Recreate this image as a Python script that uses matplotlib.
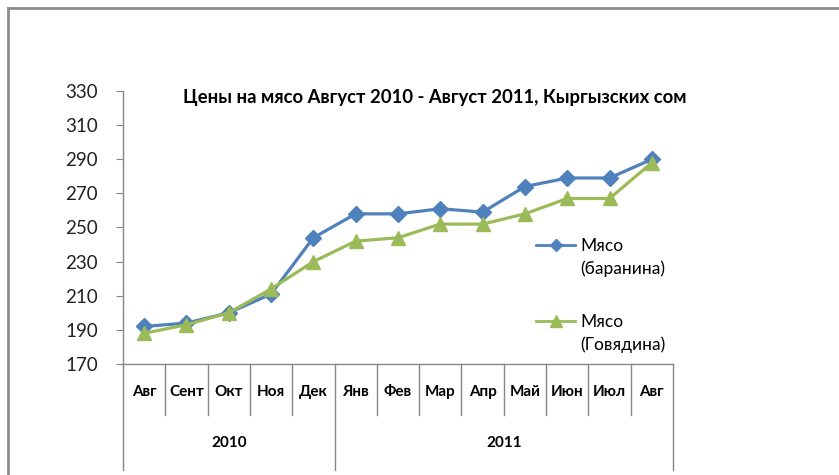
import numpy as np
import matplotlib.pyplot as plt
from matplotlib.lines import Line2D
import matplotlib.transforms as mtransforms

plt.rcParams['font.family'] = ['Lato', 'DejaVu Sans']

# data
months = ['Авг', 'Сент', 'Окт', 'Ноя', 'Дек', 'Янв', 'Фев', 'Мар', 'Апр', 'Май', 'Июн', 'Июл', 'Авг']
years = ['2010', '2011']
year_counts = [5, 8]
mutton = [192, 194, 200, 211, 244, 258, 258, 261, 259, 274, 279, 279, 290]
beef = [188, 193, 200, 214, 230, 242, 244, 252, 252, 258, 267, 267, 288]
yticks = np.arange(170, 331, 20)

title = 'Цены на мясо Август 2010 - Август 2011, Кыргызских сом'
lbl_mutton = ['Мясо', '(баранина)']
lbl_beef = ['Мясо', '(Говядина)']

blue = '#4F81BD'
green = '#9BBB59'
grid_c = '#868686'

W, H = 839, 475
fig = plt.figure(figsize=(W / 100, H / 100), dpi=100)
ax = fig.add_axes([123 / W, 1 - 364 / H, 550 / W, 273 / H])

x = np.arange(len(months))
ax.plot(x, mutton, color=blue, lw=2.3, marker='D', ms=8.5, zorder=3)
ax.plot(x, beef, color=green, lw=2.3, marker='^', ms=10.5, zorder=4)

ax.set_xlim(-0.5, len(months) - 0.5)
ax.set_ylim(170, 330)
ax.set_yticks(yticks)
ax.set_yticklabels([str(v) for v in yticks], fontsize=13.5, color='#222222')
ax.tick_params(axis='y', direction='out', length=5, color=grid_c, pad=13)
ax.set_xticks([])
for s in ['top', 'right']:
    ax.spines[s].set_visible(False)
for s in ['left', 'bottom']:
    ax.spines[s].set_color(grid_c)
    ax.spines[s].set_linewidth(1)

# category table under the axis
tr = mtransforms.blended_transform_factory(ax.transData, ax.transAxes)
bounds = np.cumsum([0] + year_counts) - 0.5
for i in range(len(months) + 1):
    xb = i - 0.5
    y1 = -0.388 if xb in bounds else -0.187
    ax.add_line(Line2D([xb, xb], [0, y1], transform=tr, color=grid_c, lw=1, clip_on=False))
for i, m in enumerate(months):
    ax.text(i, -0.103, m, transform=tr, ha='center', va='center', fontsize=11, fontweight='bold')
for k, yr in enumerate(years):
    xc = (bounds[k] + bounds[k + 1]) / 2
    ax.text(xc, -0.29, yr, transform=tr, ha='center', va='center', fontsize=11, fontweight='bold')

fig.text(435 / W, 1 - 97 / H, title, ha='center', va='center', fontsize=13.3, fontweight='bold')

# legend drawn by hand to keep the marker on the first text line
for yy, c, mk, ms, lbl in [(245, blue, 'D', 6.5, lbl_mutton), (321, green, '^', 8.5, lbl_beef)]:
    fy = 1 - yy / H
    fig.add_artist(Line2D([536 / W, 575 / W], [fy, fy], color=c, lw=2))
    fig.add_artist(Line2D([556 / W], [fy], color=c, marker=mk, ms=ms))
    for j, line in enumerate(lbl):
        fig.text(580 / W, 1 - (yy + 1 + 23 * j) / H, line, ha='left', va='center', fontsize=12.5)

# outer frame (top and left edges)
fig.add_artist(Line2D([8 / W, 1], [1 - 8 / H, 1 - 8 / H], color='#8c8c8c', lw=2))
fig.add_artist(Line2D([8 / W, 8 / W], [0, 1 - 8 / H], color='#8c8c8c', lw=2))

fig.savefig('out.png', dpi=100)
